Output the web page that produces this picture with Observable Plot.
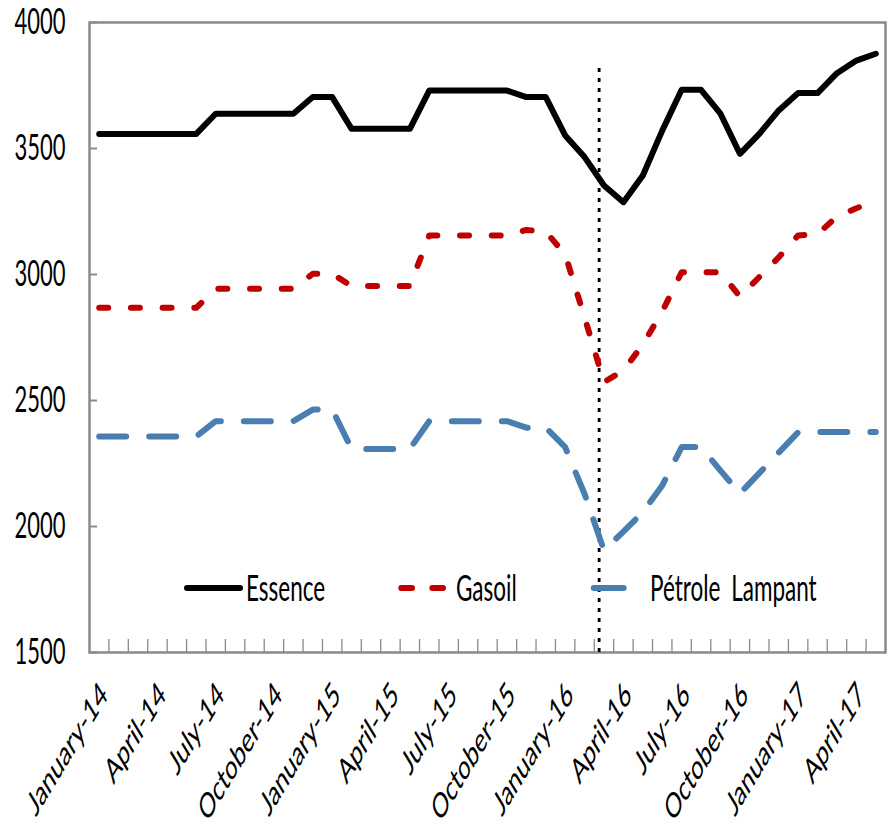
<!DOCTYPE html>
<html>
<head>
<meta charset="utf-8">
<script src="https://cdn.jsdelivr.net/npm/d3@7"></script>
<script src="https://cdn.jsdelivr.net/npm/@observablehq/plot@0.6"></script>
<style>
  body { margin: 0; background: #fff; }
  #chart { width: 890px; height: 826px; position: relative; }
</style>
</head>
<body>
<div id="chart"></div>
<script>
// ---- Data ----
const months = [
  "January-14","February-14","March-14","April-14","May-14","June-14","July-14","August-14","September-14","October-14","November-14","December-14",
  "January-15","February-15","March-15","April-15","May-15","June-15","July-15","August-15","September-15","October-15","November-15","December-15",
  "January-16","February-16","March-16","April-16","May-16","June-16","July-16","August-16","September-16","October-16","November-16","December-16",
  "January-17","February-17","March-17","April-17","May-17"
];
const essence = [
  3558,3558,3558,3558,3558,3558, 3638,3638,3638,3638,3638, 3704,3704,
  3578,3578,3578,3578, 3730,3730,3730,3730,3730, 3704,3704,
  3552,3466,3353,3287,3393,3571,3733,3733,3638,3479,3558,3651,3720,3720,3799,3849,3876
];
const gasoil = [
  2868,2868,2868,2868,2868,2868, 2943,2943,2943,2943,2943, 3003,3003,
  2954,2954,2954,2954, 3155,3155,3155,3155,3155, 3177,3170,
  3080,2830,2573,2619,2722,2853,3009,3009,3009,2912,2990,3068,3155,3160,3230,3263,3292
];
const petrole = [
  2357,2357,2357,2357,2357,2357, 2418,2418,2418,2418,2418, 2464,2464,
  2308,2308,2308,2308, 2418,2418,2418,2418,2418, 2392,2392,
  2315,2129,1905,1980,2057,2163,2315,2315,2222,2131,2212,2293,2374,2375,2375,2375,2375
];
const seriesNames = ["Essence", "Gasoil", "Pétrole Lampant"];
const seriesColors = ["#000000", "#C00000", "#4A7EB0"];
const yTicks = [1500, 2000, 2500, 3000, 3500, 4000];
const labelStep = 3;               // one month label every quarter
const eventX = [25.75];            // dotted marker (between Feb-16 and Mar-16)
const eventTop = [3820];

// ---- Derived tables ----
const idx = months.map((_, i) => i);
const rows = idx.map(i => ({i, month: months[i], essence: essence[i], gasoil: gasoil[i], petrole: petrole[i]}));
const boundaries = idx.slice(1).map(i => i - 0.5);
const labelIdx = idx.filter(i => i % labelStep === 0);

const W = 890, H = 826, mL = 89, mR = 5, mT = 22, mB = 174;
const plotW = W - mL - mR, plotH = H - mT - mB;
const STRETCH = 1.65;
const FONT = "Lato, 'Open Sans', sans-serif";

const chart = Plot.plot({
  width: W, height: H,
  marginLeft: mL, marginRight: mR, marginTop: mT, marginBottom: mB,
  style: {fontFamily: FONT, fontSize: "22px", color: "#000", background: "#fff"},
  x: {domain: [-0.5, months.length - 0.5]},
  y: {domain: [yTicks[0], yTicks[yTicks.length - 1]]},
  marks: [
    Plot.tickX(boundaries, {x: d => d, stroke: "#8a8a8a", strokeWidth: 1.3, insetTop: plotH - 13}),
    Plot.tickY(yTicks, {y: d => d, stroke: "#8a8a8a", strokeWidth: 2, insetRight: plotW - 8}),
    Plot.frame({stroke: "#8a8a8a", strokeWidth: 2.5}),
    Plot.ruleX(eventX, {x: d => d, y1: yTicks[0], y2: (d, i) => eventTop[i], stroke: "#000", strokeWidth: 2.8, strokeDasharray: "4,6"}),
    Plot.line(rows, {x: "i", y: "petrole", stroke: seriesColors[2], strokeWidth: 6, strokeDasharray: "27,23", strokeLinecap: "round", strokeLinejoin: "round"}),
    Plot.line(rows, {x: "i", y: "gasoil", stroke: seriesColors[1], strokeWidth: 6, strokeDasharray: "9,22.7", strokeLinecap: "round", strokeLinejoin: "round"}),
    Plot.line(rows, {x: "i", y: "essence", stroke: seriesColors[0], strokeWidth: 6, strokeLinecap: "round", strokeLinejoin: "round"}),
    Plot.axisY(yTicks, {tickSize: 0, tickPadding: 24, tickFormat: d => String(d), fontSize: 22, label: null}),
    Plot.axisX(labelIdx, {tickSize: 0, tickPadding: 27, tickRotate: -45, tickFormat: i => months[i],
      textAnchor: "end", lineAnchor: "top", dx: -1, fontSize: 21, label: null})
  ]
});

// Vertical stretch of the text, as in the reference image
chart.querySelectorAll("text").forEach(t => {
  const tr = t.getAttribute("transform");
  if (tr && /^translate\(/.test(tr)) {
    t.setAttribute("transform", tr.replace(/^(translate\([^)]*\))/, `$1 scale(1,${STRETCH})`));
  }
});

// Legend inside the plot area
const svg = d3.select(chart);
const lg = svg.append("g").attr("font-family", FONT).attr("font-size", 22.5)
  .attr("fill", "#000").attr("text-anchor", "start").attr("word-spacing", 5);
const legendY = 588;
const legendItems = [
  {name: seriesNames[0], color: seriesColors[0], x1: 187, x2: 240, dash: null, tx: 246},
  {name: seriesNames[1], color: seriesColors[1], x1: 401.3, x2: 443.7, dash: "10.7,20.3", tx: 456},
  {name: seriesNames[2], color: seriesColors[2], x1: 593.7, x2: 623.7, dash: null, tx: 650}
];
legendItems.forEach(d => {
  const l = lg.append("line").attr("x1", d.x1).attr("x2", d.x2).attr("y1", legendY).attr("y2", legendY)
    .attr("stroke", d.color).attr("stroke-width", 6).attr("stroke-linecap", "round");
  if (d.dash) l.attr("stroke-dasharray", d.dash);
  lg.append("text").attr("transform", `translate(${d.tx},${legendY}) scale(1,${STRETCH})`)
    .attr("y", "0.34em").text(d.name);
});

document.getElementById("chart").appendChild(chart);
</script>
</body>
</html>
